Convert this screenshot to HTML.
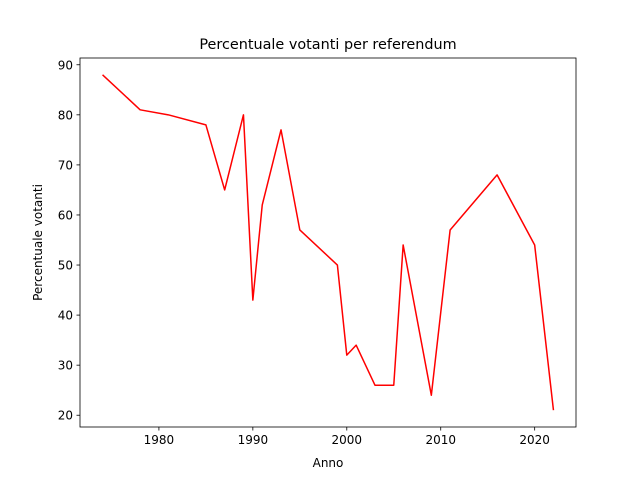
<!DOCTYPE html>
<html><head><meta charset="utf-8"><style>
body{margin:0;background:#fff;}
svg{display:block;font-family:"DejaVu Sans","Liberation Sans",sans-serif;}
</style></head><body>
<svg id="chart" width="640" height="480">
<rect width="640" height="480" fill="#fff"/>
<text x="328" y="49" font-size="14.4" text-anchor="middle">Percentuale votanti per referendum</text>
<g id="xticks"></g><g id="yticks"></g>
<path id="line" fill="none" stroke="red" stroke-width="1.5" stroke-linejoin="round"/>
<rect x="80" y="58" width="496" height="369" fill="none" stroke="#000" stroke-width="0.8"/>
<text x="328" y="467" font-size="12" text-anchor="middle">Anno</text>
<text transform="translate(42,242.5) rotate(-90)" font-size="12" text-anchor="middle">Percentuale votanti</text>
</svg>
<script>
const years=[1974,1978,1981,1985,1987,1989,1990,1991,1993,1995,1999,2000,2001,2003,2005,2006,2009,2011,2016,2020,2022];
const turnout=[88,81,80,78,65,80,43,62,77,57,50,32,34,26,26,54,24,57,68,54,21];
const xTicks=[1980,1990,2000,2010,2020];
const yTicks=[20,30,40,50,60,70,80,90];
const NS="http://www.w3.org/2000/svg";
const L=80,R=576,T=58,B=427;
const xmin=Math.min(...years),xmax=Math.max(...years),xp=(xmax-xmin)*0.05;
const ymin=Math.min(...turnout),ymax=Math.max(...turnout),yp=(ymax-ymin)*0.05;
const sx=v=>L+(v-(xmin-xp))/((xmax+xp)-(xmin-xp))*(R-L);
const sy=v=>B-(v-(ymin-yp))/((ymax+yp)-(ymin-yp))*(B-T);
document.getElementById('line').setAttribute('d',years.map((y,i)=>(i?'L':'M')+sx(y)+','+sy(turnout[i])).join(''));
const gx=document.getElementById('xticks'),gy=document.getElementById('yticks');
xTicks.forEach(t=>{
 const l=document.createElementNS(NS,'line');
 l.setAttribute('x1',sx(t));l.setAttribute('x2',sx(t));l.setAttribute('y1',B);l.setAttribute('y2',B+3.5);l.setAttribute('stroke','#000');l.setAttribute('stroke-width','0.8');
 
 
 gx.appendChild(l);
 const s=document.createElementNS(NS,'text');
 s.setAttribute('x',sx(t));s.setAttribute('y',B+17);s.setAttribute('font-size','12');s.setAttribute('text-anchor','middle');s.textContent=t;
 
 
 gx.appendChild(s);
});
yTicks.forEach(t=>{
 const l=document.createElementNS(NS,'line');
 l.setAttribute('x1',L-3.5);l.setAttribute('x2',L);l.setAttribute('y1',sy(t));l.setAttribute('y2',sy(t));l.setAttribute('stroke','#000');l.setAttribute('stroke-width','0.8');
 
 
 gy.appendChild(l);
 const s=document.createElementNS(NS,'text');
 s.setAttribute('x',L-7);s.setAttribute('y',sy(t)+4.5);s.setAttribute('font-size','12');s.setAttribute('text-anchor','end');s.textContent=t;
 
 
 gy.appendChild(s);
});
</script>
</body></html>
